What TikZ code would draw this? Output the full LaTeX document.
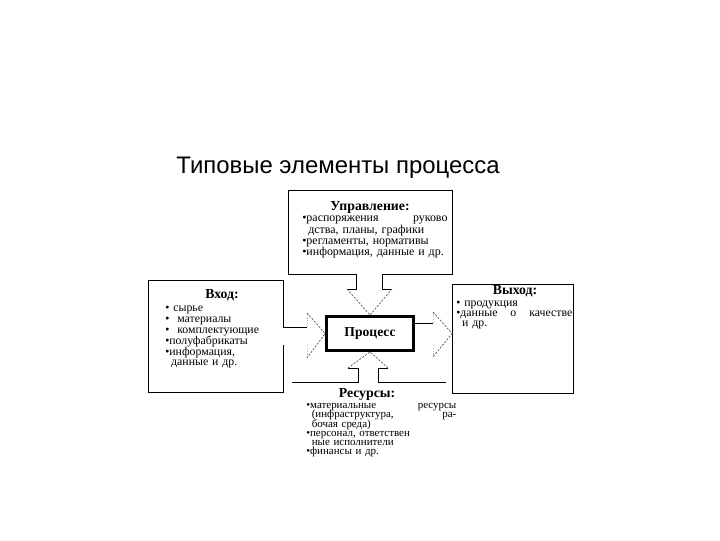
\documentclass[tikz,border=0pt]{standalone}
\usepackage{fontspec}
\setmainfont{Liberation Serif}
\newfontfamily\headfont{Liberation Sans}
\setlength{\normallineskiplimit}{-10pt}
\setlength{\normallineskip}{0pt}
\colorlet{inkmuted}{black!65}
\colorlet{inkfaint}{black!30}
\tikzset{frame/.style={line width=0.7pt},
  wing/.style={inkmuted, line width=0.5pt, dash pattern=on 1.5pt off 1pt},
  ledge/.style={inkfaint, line width=0.5pt, dash pattern=on 1pt off 1pt},
  listtext/.style={anchor=north west, inner sep=0pt, align=left},
  listhead/.style={inner sep=0pt, font=\bfseries\fontsize{9.8}{9.8}\selectfont}}

\begin{document}
\begin{tikzpicture}[x=0.025cm, y=-0.025cm]
\useasboundingbox (0,0) rectangle (720,540);
\node[font=\headfont\fontsize{17}{17}\selectfont] (title) at (338,168) {Типовые элементы процесса};
\node[draw, line width=2pt, minimum width=2.175cm, minimum height=0.85cm, inner sep=0pt,
  font=\bfseries\fontsize{9.7}{9.7}\selectfont] (proc) at (370,333.5) {Процесс};
% Управление
\coordinate (upr-l) at (347,289); \coordinate (upr-r) at (392,289);
\draw[frame] (upr-l) -- (356,289) -- (356,274) -- (288,274) -- (288,190) -- (452,190) -- (452,274) -- (382,274) -- (382,289) -- (upr-r);
\draw[wing] (upr-l) -- (proc.north) -- (upr-r);
\node[listhead] (upr-head) at (370,207) {Управление:};
\node[listtext, text width=3.63cm, font=\fontsize{8.5}{7.9}\selectfont] (upr-list) at (302,216)
  {•распоряжения \hfill руково\\
   \hspace*{0.5em}дства, планы, графики\\
   •регламенты, нормативы\\
   •информация, данные и др.};
% Вход
\coordinate (vh-t) at (307,313); \coordinate (vh-b) at (307,358);
\draw[frame] (307,327) -- (283,327) -- (283,280) -- (148,280) -- (148,392) -- (283,392) -- (283,345);
\draw[ledge] (307,327) -- (vh-t); \draw[ledge] (307,345) -- (vh-b);
\draw[wing] (vh-t) -- (proc.west) -- (vh-b);
\node[listhead] (vh-head) at (222,295) {Вход:};
\node[listtext, text width=2.88cm, font=\fontsize{8.4}{7.7}\selectfont] (vh-list) at (165,306)
  {• сырье\\
   •\ \ материалы\\
   •\ \ комплектующие\\
   •полуфабрикаты\\
   •информация,\\
   \hspace*{0.5em}данные и др.};
% Выход
\coordinate (vy-t) at (433,312); \coordinate (vy-b) at (433,357);
\draw[frame] (452,284) rectangle (573,393);
\draw[frame] (proc.east |- 0,323) -- (433,323);
\draw[ledge] (433,323) -- (vy-t); \draw[ledge] (433,345) -- (vy-b);
\draw[wing] (vy-t) -- (proc.east -| 452,0) -- (vy-b);
\node[listhead] (vy-head) at (515,291) {Выход:};
\node[listtext, text width=2.9cm, font=\fontsize{8.4}{7.1}\selectfont] (vy-list) at (456,301)
  {• продукция\\
   •данные \hfill о \hfill качестве\\
   \hspace*{0.5em}и др.};
% Ресурсы
\coordinate (res-l) at (348,368); \coordinate (res-r) at (388,368);
\draw[frame] (292,382) -- (358,382) -- (358,368) -- (res-l);
\draw[frame] (446,382) -- (378,382) -- (378,368) -- (res-r);
\draw[wing] (res-l) -- (proc.south) -- (res-r);
\node[listhead] (res-head) at (367,394) {Ресурсы:};
\node[listtext, text width=3.75cm, font=\fontsize{7.8}{6.6}\selectfont] (res-list) at (306,403)
  {•материальные \hfill ресурсы\\
   \hspace*{0.5em}(инфраструктура, \hfill ра-\\
   \hspace*{0.5em}бочая среда)\\
   •персонал, ответствен\\
   \hspace*{0.5em}ные исполнители\\
   •финансы и др.};
\end{tikzpicture}
\end{document}
